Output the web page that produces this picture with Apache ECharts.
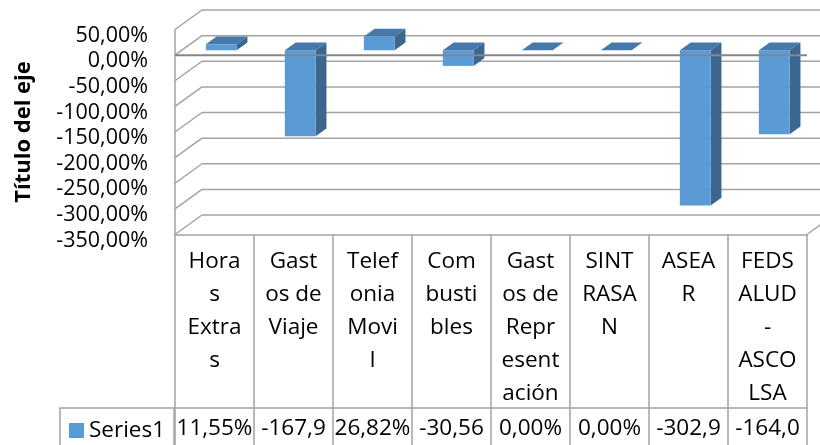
<!DOCTYPE html>
<html>
<head>
<meta charset="utf-8">
<script src="https://cdn.jsdelivr.net/npm/echarts@6/dist/echarts.min.js"></script>
<style>
html,body{margin:0;padding:0;background:#fff;}
#chart{width:820px;height:445px;}
</style>
</head>
<body>
<div id="chart"></div>
<script>
// ---- data ----
const categories = ['Horas Extras', 'Gastos de Viaje', 'Telefonia Movil', 'Combustibles', 'Gastos de Representación', 'SINTRASAN', 'ASEAR', 'FEDSALUD-ASCOLSA'];
const categoryLabels = ['Hora\ns\nExtra\ns', 'Gast\nos de\nViaje', 'Telef\nonia\nMovi\nl', 'Com\nbusti\nbles', 'Gast\nos de\nRepr\nesent\nación', 'SINT\nRASA\nN', 'ASEA\nR', 'FEDS\nALUD\n-\nASCO\nLSA'];
const seriesName = 'Series1';
const values = [11.55, -167.90, 26.82, -30.56, 0.00, 0.00, -302.90, -164.00];
const yTicks = [50, 0, -50, -100, -150, -200, -250, -300, -350];
const yTitle = 'Título del eje';

// ---- styling ----
const FONT = "'Open Sans', sans-serif";
const GRID_COLOR = '#a3a3a3';
const DX = 27, DY = -19.5;          // full depth of the 3D box
const BAR_FRONT = 0.25, BAR_BACK = 0.65, BAR_W = 0.39;
const FRONT_COLOR = '#5b9bd5', TOP_COLOR = '#4678ab', SIDE_COLOR = '#3a6690';
const LABEL_SHIFT = 6;              // tick labels sit slightly below their ticks

function fmt(v) { return v.toFixed(2).replace('.', ',') + '%'; }

const yMin = Math.min(...yTicks), yMax = Math.max(...yTicks);
const yStep = yTicks[0] - yTicks[1];

function renderWall(params, api) {
  const cs = params.coordSys;
  const x0 = cs.x, x1 = cs.x + cs.width;
  const y = api.coord([0, api.value(1)])[1];
  const st = { stroke: GRID_COLOR, lineWidth: 1.5 };
  const ch = [
    { type: 'line', shape: { x1: x0, y1: y, x2: x0 + DX, y2: y + DY }, style: st },
    { type: 'line', shape: { x1: x0 + DX, y1: y + DY, x2: x1 + DX, y2: y + DY }, style: st }
  ];
  if (params.dataIndex === 0) {
    const yT = api.coord([0, yMax])[1], yB = api.coord([0, yMin])[1];
    ch.push({ type: 'line', shape: { x1: x0, y1: yT, x2: x0, y2: yB }, style: st });
    ch.push({ type: 'line', shape: { x1: x1, y1: yB, x2: x1 + DX, y2: yB + DY }, style: st });
  }
  return { type: 'group', children: ch };
}

function renderBar(params, api) {
  const i = api.value(0), v = api.value(1);
  const c0 = api.coord([i, 0]), c1 = api.coord([i, v]);
  const bw = api.size([1, 0])[0] * BAR_W;
  const L = c0[0] - bw / 2, R = c0[0] + bw / 2;
  const yt = Math.min(c0[1], c1[1]), yb = Math.max(c0[1], c1[1]);
  const fx = DX * BAR_FRONT, fy = DY * BAR_FRONT, bx = DX * BAR_BACK, by = DY * BAR_BACK;
  const ch = [];
  ch.push({ type: 'polygon', shape: { points: [[R + fx, yt + fy], [R + bx, yt + by], [R + bx, yb + by], [R + fx, yb + fy]] }, style: { fill: SIDE_COLOR } });
  ch.push({ type: 'rect', shape: { x: L + fx, y: yt + fy, width: bw, height: yb - yt }, style: { fill: FRONT_COLOR } });
  ch.push({ type: 'polygon', shape: { points: [[L + fx, yt + fy], [R + fx, yt + fy], [R + bx, yt + by], [L + bx, yt + by]] }, style: { fill: TOP_COLOR } });
  return { type: 'group', children: ch };
}

function renderZero(params, api) {
  const cs = params.coordSys;
  const y = api.coord([0, api.value(1)])[1];
  return { type: 'line', shape: { x1: cs.x, y1: y, x2: cs.x + cs.width, y2: y }, style: { stroke: '#868686', lineWidth: 2 } };
}

const chart = echarts.init(document.getElementById('chart'));
chart.setOption({
  animation: false,
  backgroundColor: '#fff',
  textStyle: { fontFamily: FONT, color: '#000' },
  grid: [
    { left: 175, right: 13, top: 29.5, bottom: 210.5, containLabel: false },
    { left: 175, right: 13, top: 29.5 + LABEL_SHIFT, bottom: 210.5 - LABEL_SHIFT, containLabel: false }
  ],
  legend: {
    data: [seriesName], left: 60, top: 408, orient: 'horizontal',
    icon: 'rect', itemWidth: 15, itemHeight: 15, itemGap: 5,
    padding: [11, 9, 40, 9], borderColor: GRID_COLOR, borderWidth: 1.5,
    textStyle: { fontFamily: FONT, fontSize: 22.5, color: '#000' },
    selectedMode: false
  },
  xAxis: [
    {
      type: 'category', data: categoryLabels, position: 'bottom', gridIndex: 0,
      axisLine: { onZero: false, lineStyle: { color: GRID_COLOR, width: 1.5 } },
      axisTick: { show: true, interval: 0, length: 211, lineStyle: { color: GRID_COLOR, width: 1.5 } },
      axisLabel: { interval: 0, fontFamily: FONT, fontSize: 22.5, lineHeight: 33, color: '#000', margin: 11 },
      splitLine: { show: false }
    },
    {
      type: 'category', data: values.map(fmt), position: 'bottom', offset: 173.5, gridIndex: 0,
      axisLine: { onZero: false, lineStyle: { color: GRID_COLOR, width: 1.5 } },
      axisTick: { show: false },
      axisLabel: { interval: 0, fontFamily: FONT, fontSize: 22.5, color: '#000', margin: 9, width: 79, overflow: 'truncate', ellipsis: '' },
      splitLine: { show: false }
    },
    { type: 'category', data: categories, gridIndex: 1, show: false }
  ],
  yAxis: [
    {
      type: 'value', min: yMin, max: yMax, interval: yStep, gridIndex: 0,
      name: yTitle, nameLocation: 'middle', nameRotate: 90, nameGap: 140,
      nameTextStyle: { fontFamily: FONT, fontSize: 22, fontWeight: 'bold', color: '#000' },
      axisLine: { show: false }, axisTick: { show: false }, splitLine: { show: false },
      axisLabel: { show: false }
    },
    {
      type: 'value', min: yMin, max: yMax, interval: yStep, gridIndex: 1,
      axisLine: { show: false }, axisTick: { show: false }, splitLine: { show: false },
      axisLabel: { formatter: fmt, fontFamily: FONT, fontSize: 21.5, color: '#000', margin: 27, showMinLabel: true, showMaxLabel: true }
    }
  ],
  series: [
    { type: 'custom', z: 1, silent: true, renderItem: renderWall, data: yTicks.map(v => [0, v]), xAxisIndex: 0, yAxisIndex: 0 },
    { type: 'custom', name: seriesName, z: 2, renderItem: renderBar, itemStyle: { color: FRONT_COLOR }, data: values.map((v, i) => [i, v]), xAxisIndex: 0, yAxisIndex: 0 },
    { type: 'custom', z: 5, silent: true, renderItem: renderZero, data: [[0, 0]], xAxisIndex: 0, yAxisIndex: 0 }
  ]
});
</script>
</body>
</html>
